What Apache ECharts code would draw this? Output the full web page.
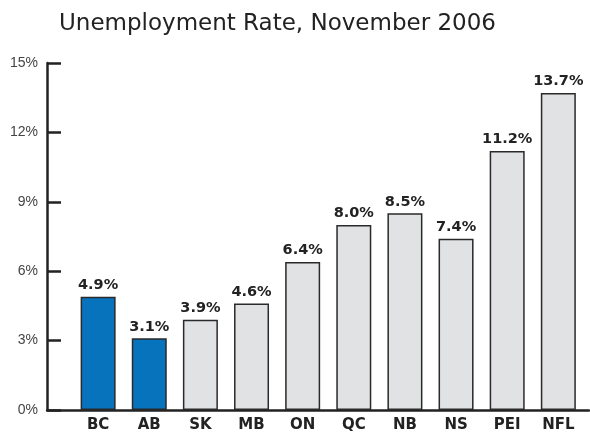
<!DOCTYPE html>
<html>
<head>
<meta charset="utf-8">
<script src="https://cdn.jsdelivr.net/npm/echarts@6/dist/echarts.min.js"></script>
<style>
  html, body { margin: 0; padding: 0; background: #fff; }
  #chart { width: 590px; height: 435px; }
</style>
</head>
<body>
<div id="chart"></div>
<script>
// Provinces along the bottom, rates in percent
const provinces = ['BC', 'AB', 'SK', 'MB', 'ON', 'QC', 'NB', 'NS', 'PEI', 'NFL'];
const rates = [4.9, 3.1, 3.9, 4.6, 6.4, 8.0, 8.5, 7.4, 11.2, 13.7];
// Western provinces shown in blue
const highlighted = ['BC', 'AB'];
const yTicks = [0, 3, 6, 9, 12, 15];

const chart = echarts.init(document.getElementById('chart'));

const barData = rates.map((v, i) => ({
  value: [i, v],
  itemStyle: {
    color: highlighted.includes(provinces[i]) ? '#0873BD' : '#E1E2E4'
  }
}));

chart.setOption({
  animation: false,
  title: {
    text: 'Unemployment Rate, November 2006',
    left: 59,
    top: 13,
    padding: 0,
    textStyle: {
      fontFamily: 'DejaVu Sans',
      fontSize: 23,
      fontWeight: 'normal',
      color: '#222'
    }
  },
  grid: { left: 47, right: 1, top: 63, bottom: 25, containLabel: false },
  xAxis: {
    type: 'value',
    min: -1,
    max: 9.6,
    interval: 1,
    axisLine: { show: true, onZero: false, lineStyle: { color: '#222', width: 2.5 } },
    axisTick: { show: false },
    splitLine: { show: false },
    axisLabel: {
      showMinLabel: true,
      showMaxLabel: false,
      margin: 8,
      fontFamily: 'DejaVu Sans',
      fontWeight: 'bold',
      fontSize: 15,
      color: '#222',
      formatter: v => (Number.isInteger(v) && v >= 0 && v < provinces.length) ? provinces[v] : ''
    }
  },
  yAxis: {
    type: 'value',
    position: 'left',
    min: yTicks[0],
    max: yTicks[yTicks.length - 1],
    interval: 3,
    axisLine: { show: true, onZero: false, lineStyle: { color: '#222', width: 2.5 } },
    axisTick: { show: true, inside: false, length: -14, lineStyle: { color: '#222', width: 2.5 } },
    splitLine: { show: false },
    axisLabel: {
      margin: 9,
      fontFamily: 'Liberation Sans',
      fontSize: 14,
      color: '#444',
      formatter: v => v + '%'
    }
  },
  series: [{
    type: 'bar',
    data: barData,
    barWidth: 35,
    itemStyle: { borderColor: '#2a2a2a', borderWidth: 1.5 },
    label: {
      show: true,
      position: 'top',
      distance: 4,
      fontFamily: 'DejaVu Sans',
      fontWeight: 'bold',
      fontSize: 14.5,
      color: '#222',
      formatter: p => p.value[1].toFixed(1) + '%'
    }
  }]
});
</script>
</body>
</html>
